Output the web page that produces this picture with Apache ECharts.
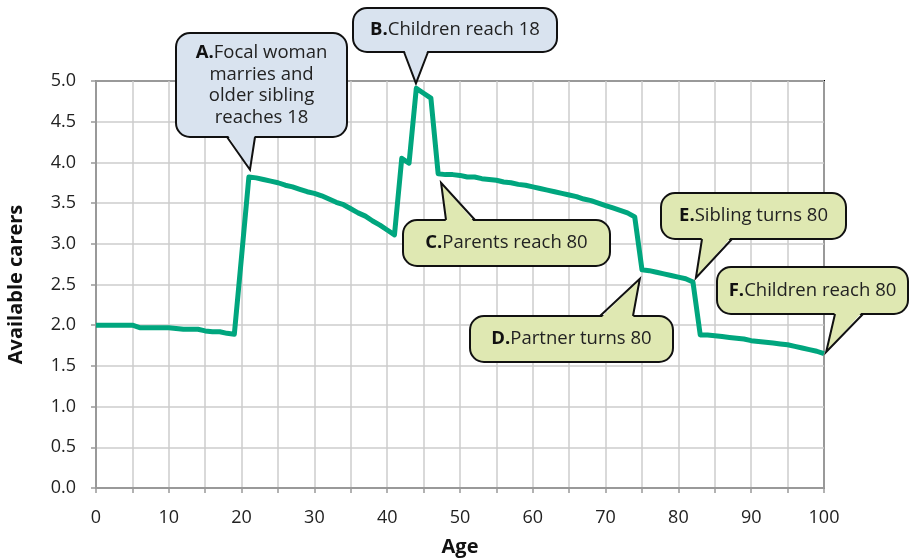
<!DOCTYPE html>
<html>
<head>
<meta charset="utf-8">
<script src="https://cdn.jsdelivr.net/npm/echarts@6/dist/echarts.min.js"></script>
<style>html,body{margin:0;padding:0;background:#fff}#c{width:914px;height:559px}</style>
</head>
<body>
<div id="c"></div>
<script>
// ---- data ----
const ages = [];
for (let a = 0; a <= 100; a++) ages.push(a);
const carers = [
  2.00, 2.00, 2.00, 2.00, 2.00, 2.00, 1.97, 1.97, 1.97, 1.97,
  1.97, 1.96, 1.95, 1.95, 1.95, 1.93, 1.92, 1.92, 1.90, 1.89,
  2.85, 3.82, 3.81, 3.79, 3.77, 3.75, 3.72, 3.70, 3.67, 3.64,
  3.62, 3.59, 3.55, 3.51, 3.48, 3.43, 3.38, 3.34, 3.28, 3.23,
  3.17, 3.11, 4.05, 3.99, 4.91, 4.85, 4.79, 3.86, 3.85, 3.85,
  3.84, 3.82, 3.82, 3.80, 3.79, 3.78, 3.76, 3.75, 3.73, 3.72,
  3.70, 3.68, 3.66, 3.64, 3.62, 3.60, 3.58, 3.55, 3.53, 3.50,
  3.47, 3.44, 3.41, 3.38, 3.33, 2.68, 2.67, 2.65, 2.63, 2.61,
  2.59, 2.57, 2.53, 1.88, 1.88, 1.87, 1.86, 1.85, 1.84, 1.83,
  1.81, 1.80, 1.79, 1.78, 1.77, 1.76, 1.74, 1.72, 1.70, 1.68,
  1.65
];
const xTickLabels = ['0','10','20','30','40','50','60','70','80','90','100'];
const yTickLabels = ['0.0','0.5','1.0','1.5','2.0','2.5','3.0','3.5','4.0','4.5','5.0'];
const noteLetters = ['A.', 'B.', 'C.', 'D.', 'E.', 'F.'];
const noteTexts = [
  ['Focal woman', 'marries and', 'older sibling', 'reaches 18'],
  ['Children reach 18'],
  ['Parents reach 80'],
  ['Partner turns 80'],
  ['Sibling turns 80'],
  ['Children reach 80']
];
const noteTipAge = [21.15, 43.95, 47.4, 74.7, 82.4, 100.3];
const noteTipValue = [3.91, 4.97, 3.75, 2.57, 2.58, 1.67];

const FONT = '"Open Sans", Lato, sans-serif';
const chart = echarts.init(document.getElementById('c'));
chart.setOption({
  animation: false,
  grid: { left: 96, right: 90, top: 81, bottom: 71, show: true, borderColor: '#000', borderWidth: 2, backgroundColor: 'transparent', outerBoundsMode: 'none', containLabel: false },
  xAxis: {
    type: 'value', min: 0, max: 100, interval: 5,
    name: 'Age', nameLocation: 'middle', nameGap: 49,
    nameTextStyle: { fontFamily: FONT, fontSize: 20, fontWeight: 'bold', color: '#111' },
    axisLine: { show: true, lineStyle: { color: '#999', width: 2 } },
    axisTick: { show: true, length: 5, lineStyle: { color: '#999', width: 1.5 } },
    axisLabel: {
      margin: 21, fontFamily: FONT, fontSize: 18, color: '#222',
      formatter: v => (v % 10 === 0 ? xTickLabels[v / 10] : '')
    },
    splitLine: { show: true, lineStyle: { color: '#cccccc', width: 1.5 } }
  },
  yAxis: {
    type: 'value', min: 0, max: 5, interval: 0.5,
    name: 'Available carers', nameLocation: 'middle', nameGap: 70,
    nameTextStyle: { fontFamily: FONT, fontSize: 20, fontWeight: 'bold', color: '#111' },
    axisLine: { show: true, lineStyle: { color: '#999', width: 2 } },
    axisTick: { show: true, length: 5, lineStyle: { color: '#999', width: 1.5 } },
    axisLabel: {
      margin: 20, fontFamily: FONT, fontSize: 18, color: '#222',
      formatter: v => yTickLabels[Math.round(v * 2)]
    },
    splitLine: { show: true, lineStyle: { color: '#cccccc', width: 1.5 } }
  },
  series: [{
    type: 'line',
    data: ages.map((a, i) => [a, carers[i]]),
    symbol: 'none',
    lineStyle: { color: '#00a67e', width: 5, join: 'round' },
    z: 3
  }]
});

// Callout bubble boxes (pixel layout) + tail base positions
const boxes = [
  { x: 176, y: 33, w: 171, h: 104, side: 'bottom', b1: 227, b2: 255, fill: '#d9e3ef' },
  { x: 353, y: 8, w: 204, h: 44, side: 'bottom', b1: 404, b2: 428, fill: '#d9e3ef' },
  { x: 403, y: 220, w: 207, h: 46, side: 'top', b1: 446, b2: 475, fill: '#dfe8b2' },
  { x: 470, y: 316, w: 203, h: 46, side: 'top', b1: 600, b2: 633, fill: '#dfe8b2' },
  { x: 661, y: 193, w: 185, h: 46, side: 'bottom', b1: 702, b2: 732, fill: '#dfe8b2' },
  { x: 717, y: 267, w: 191, h: 47, side: 'bottom', b1: 835, b2: 863, fill: '#dfe8b2' }
];
const graphics = [];
boxes.forEach((b, i) => {
  const tip = chart.convertToPixel({ gridIndex: 0 }, [noteTipAge[i], noteTipValue[i]]);
  const edgeY = b.side === 'bottom' ? b.y + b.h : b.y;
  const inner = b.side === 'bottom' ? edgeY - 3 : edgeY + 3;
  graphics.push({
    type: 'rect', shape: { x: b.x, y: b.y, width: b.w, height: b.h, r: 14 },
    style: { fill: b.fill, stroke: '#111', lineWidth: 2 }, z: 100
  });
  graphics.push({
    type: 'polygon', shape: { points: [[b.b1, inner], tip, [b.b2, inner]] },
    style: { fill: b.fill, stroke: null }, z: 101
  });
  graphics.push({
    type: 'polyline', shape: { points: [[b.b1, edgeY], tip, [b.b2, edgeY]] },
    style: { stroke: '#111', lineWidth: 2, fill: null, lineJoin: 'miter' }, z: 102
  });
  const lines = noteTexts[i];
  const rich = lines.map((l, k) => (k === 0 ? '{b|' + noteLetters[i] + '}{t|' + l + '}' : '{t|' + l + '}')).join('\n');
  graphics.push({
    type: 'text', z: 103,
    x: b.x + b.w / 2, y: b.y + b.h / 2,
    style: {
      text: rich, align: 'center', verticalAlign: 'middle',
      lineHeight: 21.5,
      rich: {
        b: { fontFamily: FONT, fontSize: 18.5, fontWeight: 'bold', fill: '#111', lineHeight: 21.5 },
        t: { fontFamily: FONT, fontSize: 18.5, fill: '#222', lineHeight: 21.5 }
      }
    }
  });
});
chart.setOption({ graphic: graphics });
</script>
</body>
</html>
